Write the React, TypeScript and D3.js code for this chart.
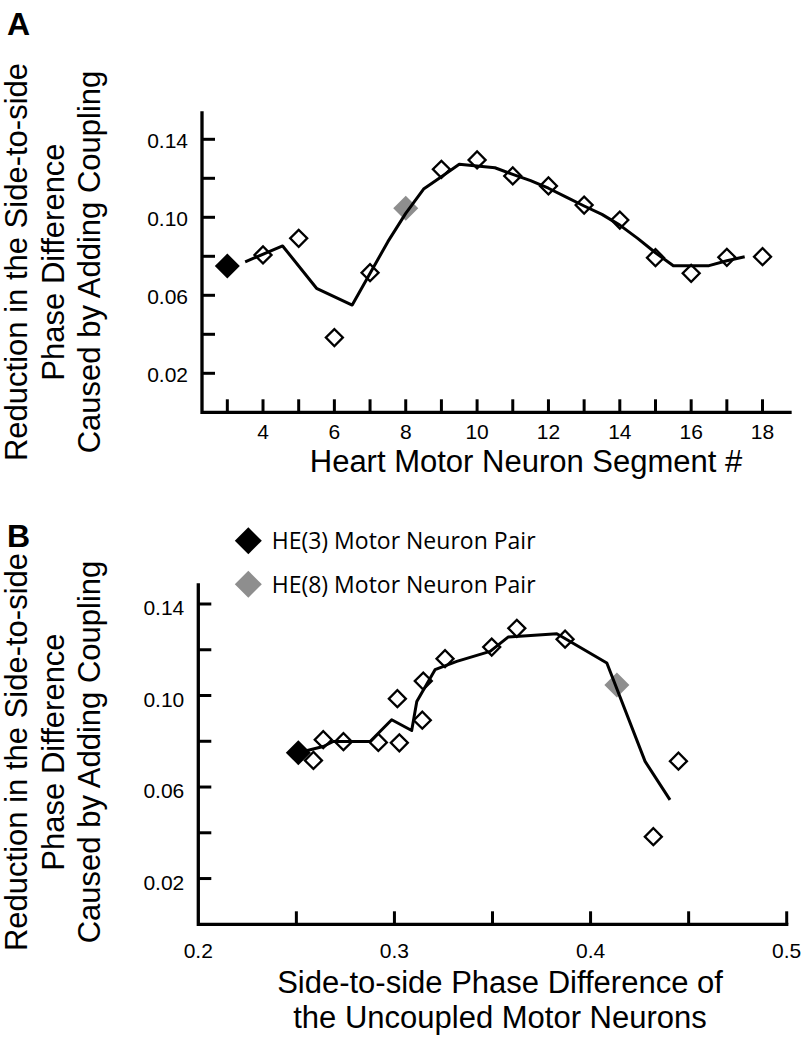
import React from 'react';
import * as d3 from 'd3';

// Heart motor neuron segments and their reduction in side-to-side phase difference
const segments = [3, 4, 5, 6, 7, 8, 9, 10, 11, 12, 13, 14, 15, 16, 17, 18];
const reduction = [0.075, 0.0807, 0.0892, 0.0383, 0.0716, 0.1046, 0.1246, 0.1294, 0.1212, 0.1161, 0.1063, 0.0986, 0.0793, 0.0713, 0.0795, 0.0798];
// Side-to-side phase difference of the uncoupled motor neurons (panel B x)
const uncoupledPhase = [0.251, 0.2637, 0.3142, 0.432, 0.2587, 0.4134, 0.387, 0.3624, 0.3496, 0.3258, 0.3147, 0.3015, 0.3025, 0.4448, 0.2918, 0.274];
const highlightBlack = 3;
const highlightGray = 8;

// Smoothed trend in panel A
const trendAx = [3.5, 4.55, 5.5, 6.5, 7.5, 8.0, 8.5, 9.0, 9.5, 10.0, 10.5, 11.0, 11.5, 12.0, 12.5, 13.0, 13.5, 14.0, 14.5, 15.0, 15.5, 16.5, 17.0, 17.5];
const trendAy = [0.0772, 0.0853, 0.0636, 0.055, 0.0875, 0.102, 0.1145, 0.1208, 0.1272, 0.1263, 0.1254, 0.122, 0.1188, 0.1149, 0.1103, 0.1058, 0.1015, 0.096, 0.0892, 0.0818, 0.0752, 0.0752, 0.0777, 0.0798];

// Trend in panel B
const trendBx = [0.252, 0.2637, 0.2688, 0.2876, 0.2986, 0.3088, 0.3114, 0.3207, 0.3318, 0.3488, 0.3581, 0.3828, 0.4083, 0.4278, 0.4405];
const trendBy = [0.0752, 0.0777, 0.0799, 0.0799, 0.0894, 0.0847, 0.0974, 0.1113, 0.1149, 0.1193, 0.1256, 0.127, 0.1142, 0.0712, 0.0544];

const yTicks = [0.02, 0.04, 0.06, 0.08, 0.1, 0.12, 0.14];
const yTickLabels = [0.14, 0.1, 0.06, 0.02];
const xTicksA = segments;
const xLabelsA = [4, 6, 8, 10, 12, 14, 16, 18];
const xTicksB = [0.25, 0.3, 0.35, 0.4, 0.45, 0.5];
const xLabelsB = [0.2, 0.3, 0.4, 0.5];

const legendItems = ['HE(3) Motor Neuron Pair', 'HE(8) Motor Neuron Pair'];
const yTitle = ['Reduction in the Side-to-side', 'Phase Difference', 'Caused by Adding Coupling'];

const SANS = 'Liberation Sans, Arial, Helvetica, sans-serif';
const GRAY = '#8e8e8e';

const diamond = (diag: number) => d3.symbol().type(d3.symbolSquare).size((diag * diag) / 2)() as string;

function Panel({ xs, ys, xScale, yScale, xAxisEnd, yAxisTop, xTicks, xLabels, xFmt, trendX, trendY, yLabelDy, xLabelY, titleLines, titleY, titleX, yTitleCenter, letter, letterY }: any) {
  const x0 = xScale.range()[0];
  const y0 = yScale(0);
  const line = d3.line<number>().x((_, i) => xScale(trendX[i])).y((_, i) => yScale(trendY[i]));
  const pts = segments.map((s, i) => ({ s, x: xScale(xs[i]), y: yScale(ys[i]) }));
  return (
    <g>
      <text x={7} y={letterY} fontFamily={SANS} fontWeight="bold" fontSize={32}>{letter}</text>
      {yTitle.map((t, i) => (
        <text key={t} transform={`translate(${27 + i * 36.5},${yTitleCenter}) rotate(-90)`} textAnchor="middle" fontFamily={SANS} fontSize={31}>{t}</text>
      ))}
      {/* axes */}
      <path d={`M${x0},${yAxisTop}V${y0}H${xAxisEnd}`} fill="none" stroke="#000" strokeWidth={3.3} strokeLinecap="square" />
      {yTicks.map((v) => (
        <line key={v} x1={x0} x2={x0 + 13} y1={yScale(v)} y2={yScale(v)} stroke="#000" strokeWidth={3} />
      ))}
      {yTickLabels.map((v) => (
        <text key={v} x={x0 - 14} y={yScale(v) + yLabelDy} textAnchor="end" fontFamily={SANS} fontSize={21}>{v.toFixed(2)}</text>
      ))}
      {xTicks.map((v: number) => (
        <line key={v} x1={xScale(v)} x2={xScale(v)} y1={y0} y2={y0 - 13} stroke="#000" strokeWidth={3} />
      ))}
      {xLabels.map((v: number) => (
        <text key={v} x={xScale(v)} y={xLabelY} textAnchor="middle" fontFamily={SANS} fontSize={21}>{xFmt(v)}</text>
      ))}
      {titleLines.map((t: string, i: number) => (
        <text key={t} x={titleX} y={titleY + i * 35} textAnchor="middle" fontFamily={SANS} fontSize={31}>{t}</text>
      ))}
      {/* filled markers */}
      {pts.filter((p) => p.s === highlightBlack || p.s === highlightGray).map((p) => (
        <path key={p.s} d={diamond(25)} transform={`translate(${p.x},${p.y}) rotate(45)`} fill={p.s === highlightBlack ? '#000' : GRAY} />
      ))}
      <path d={line(trendX) as string} fill="none" stroke="#000" strokeWidth={3} strokeLinejoin="round" />
      {pts.filter((p) => p.s !== highlightBlack && p.s !== highlightGray).map((p) => (
        <path key={p.s} d={diamond(17)} transform={`translate(${p.x},${p.y}) rotate(45)`} fill="none" stroke="#000" strokeWidth={2.3} />
      ))}
    </g>
  );
}

export default function App() {
  const xA = d3.scaleLinear().domain([2.29, 18.77]).range([202, 790]);
  const yA = d3.scaleLinear().domain([0, 0.14]).range([412.3, 139.3]);
  const xB = d3.scaleLinear().domain([0.2, 0.5]).range([198.3, 786.7]);
  const yB = d3.scaleLinear().domain([0, 0.14]).range([924.3, 604]);
  return (
    <svg width={802} height={1039} style={{ position: 'absolute', left: 0, top: 0, background: '#fff' }}>
      <rect width={802} height={1039} fill="#fff" />
      <Panel xs={segments} ys={reduction} xScale={xA} yScale={yA} xAxisEnd={790} yAxisTop={113}
        xTicks={xTicksA} xLabels={xLabelsA} xFmt={(v: number) => String(v)} trendX={trendAx} trendY={trendAy}
        yLabelDy={9} xLabelY={439} titleLines={['Heart Motor Neuron Segment #']} titleY={472} titleX={526}
        yTitleCenter={262} letter="A" letterY={35} />
      <Panel xs={uncoupledPhase} ys={reduction} xScale={xB} yScale={yB} xAxisEnd={786.7} yAxisTop={585}
        xTicks={xTicksB} xLabels={xLabelsB} xFmt={(v: number) => v.toFixed(1)} trendX={trendBx} trendY={trendBy}
        yLabelDy={11} xLabelY={957.5} titleLines={['Side-to-side Phase Difference of', 'the Uncoupled Motor Neurons']} titleY={992.5} titleX={500}
        yTitleCenter={752} letter="B" letterY={547} />
      {legendItems.map((t, i) => (
        <g key={t} transform={`translate(248.3,${540.7 + i * 43.5})`}>
          <path d={diamond(27)} transform="rotate(45)" fill={i === 0 ? '#000' : GRAY} />
          <text x={23.4} y={8.6} fontFamily="Open Sans, sans-serif" fontSize={23}>{t}</text>
        </g>
      ))}
    </svg>
  );
}
